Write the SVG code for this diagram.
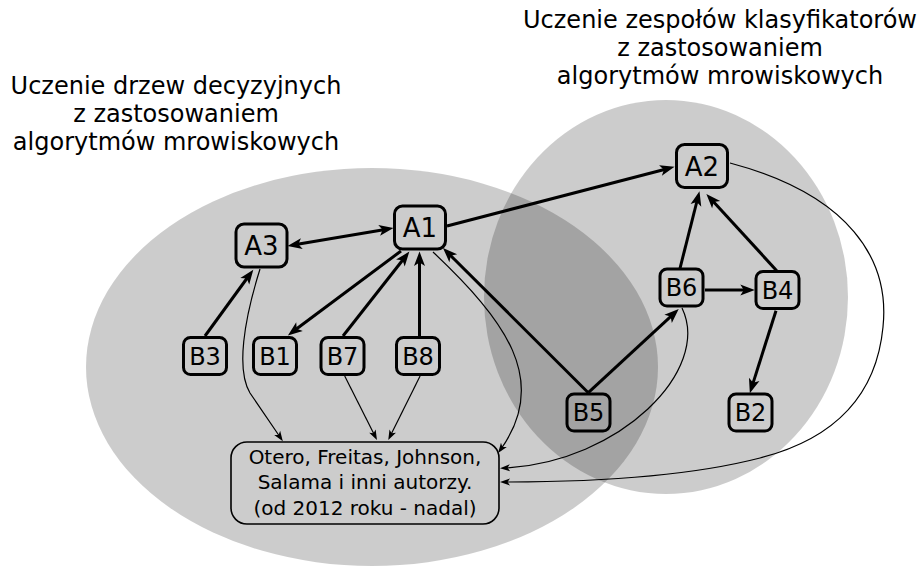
<svg xmlns="http://www.w3.org/2000/svg" width="921" height="566" viewBox="0 0 921 566">
  <style>
    .area { fill: #000000; fill-opacity: 0.2; stroke: none; }
    .title { font-family: "DejaVu Sans", sans-serif; font-size: 24px; fill: #000; text-anchor: middle; }
    .node rect { fill: none; stroke: #000; stroke-width: 3; }
    .nodeA text { font-family: "DejaVu Sans", sans-serif; font-size: 26px; fill: #000; text-anchor: middle; }
    .nodeB text { font-family: "DejaVu Sans", sans-serif; font-size: 24px; fill: #000; text-anchor: middle; }
    .ref rect { fill: none; stroke: #000; stroke-width: 1.6; }
    .ref text { font-family: "DejaVu Sans", sans-serif; font-size: 20px; fill: #000; text-anchor: middle; }
    .thick { fill: none; stroke: #000; stroke-width: 3; marker-end: url(#arrow); }
    .thin { fill: none; stroke: #000; stroke-width: 1.2; marker-end: url(#arrowThin); }
  </style>
  <defs>
    <marker id="arrow" markerUnits="userSpaceOnUse" viewBox="-8 -7 17 14" refX="0" refY="0" markerWidth="17" markerHeight="14" orient="auto-start-reverse">
      <path d="M8.5,0 L-6,-5.5 L-2.5,0 L-6,5.5 Z" fill="#000"/>
    </marker>
    <marker id="arrowThin" markerUnits="userSpaceOnUse" viewBox="-6 -5 12 10" refX="0" refY="0" markerWidth="12" markerHeight="10" orient="auto">
      <path d="M5,0 L-5,-3.6 L-2.5,0 L-5,3.6 Z" fill="#000"/>
    </marker>
  </defs>

  <!-- research areas -->
  <ellipse id="area-trees" class="area" cx="372" cy="367" rx="286" ry="199"/>
  <ellipse id="area-ensembles" class="area" cx="666" cy="297" rx="182" ry="197"/>

  <!-- area captions -->
  <g id="caption-trees">
    <text class="title" x="176" y="94">Uczenie drzew decyzyjnych</text>
    <text class="title" x="176" y="122">z zastosowaniem</text>
    <text class="title" x="176" y="150">algorytmów mrowiskowych</text>
  </g>
  <g id="caption-ensembles">
    <text class="title" x="720" y="28">Uczenie zespołów klasyfikatorów</text>
    <text class="title" x="720" y="56">z zastosowaniem</text>
    <text class="title" x="720" y="84">algorytmów mrowiskowych</text>
  </g>

  <!-- connectors -->
  <g id="connectors">
    <path class="thick" d="M295.9,244.6 L385.1,229.4" marker-start="url(#arrow)"/>
    <path class="thick" d="M447,226 L666.3,169"/>
    <path class="thick" d="M205,336 L248.3,276.5"/>
    <path class="thick" d="M401,251 L294.7,330.3"/>
    <path class="thick" d="M343,336 L404.1,258.3"/>
    <path class="thick" d="M419.5,336 L419.5,260"/>
    <path class="thick" d="M588.3,392.7 L449,254"/>
    <path class="thick" d="M588.3,392.7 L672.5,314.8"/>
    <path class="thick" d="M680,268.3 L697.4,199.5"/>
    <path class="thick" d="M776.7,270.7 L712.1,200.2"/>
    <path class="thick" d="M705,290 L746.3,290"/>
    <path class="thick" d="M776,310.7 L752.4,385.1"/>

    <path class="thin" d="M260,269 C244,320 236,370 250,393 L280,437"/>
    <path class="thin" d="M344.7,376 L374.7,435.5"/>
    <path class="thin" d="M420.1,376 L390.5,435.5"/>
    <path class="thin" d="M433,252 C505,320 550,380 501,449"/>
    <path class="thin" d="M682,308 C712,370 620,462 505,468"/>
    <path class="thin" d="M730,163 C850,195 890,260 883,327 C876,400 830,440 760,458 C690,476 600,482 505,482"/>
  </g>

  <!-- nodes -->
  <g id="A1" class="node nodeA">
    <rect x="394.5" y="206" width="51" height="43" rx="8"/>
    <text x="420" y="237">A1</text>
  </g>
  <g id="A2" class="node nodeA">
    <rect x="676.5" y="144.5" width="51" height="43" rx="8"/>
    <text x="702" y="175.5">A2</text>
  </g>
  <g id="A3" class="node nodeA">
    <rect x="236" y="224" width="51" height="43" rx="8"/>
    <text x="261.5" y="255">A3</text>
  </g>
  <g id="B3" class="node nodeB">
    <rect x="183.5" y="337.5" width="43" height="37" rx="7"/>
    <text x="205" y="364.7">B3</text>
  </g>
  <g id="B1" class="node nodeB">
    <rect x="253.5" y="337.5" width="43" height="37" rx="7"/>
    <text x="275" y="364.7">B1</text>
  </g>
  <g id="B7" class="node nodeB">
    <rect x="321" y="337.5" width="43" height="37" rx="7"/>
    <text x="342.5" y="364.7">B7</text>
  </g>
  <g id="B8" class="node nodeB">
    <rect x="396.5" y="337.5" width="43" height="37" rx="7"/>
    <text x="418" y="364.7">B8</text>
  </g>
  <g id="B5" class="node nodeB">
    <rect x="567" y="394" width="43" height="37" rx="7"/>
    <text x="588.5" y="421.2">B5</text>
  </g>
  <g id="B6" class="node nodeB">
    <rect x="660" y="269" width="43" height="37" rx="7"/>
    <text x="681.5" y="296.2">B6</text>
  </g>
  <g id="B4" class="node nodeB">
    <rect x="756" y="271.5" width="43" height="37" rx="7"/>
    <text x="777.5" y="298.7">B4</text>
  </g>
  <g id="B2" class="node nodeB">
    <rect x="729" y="394" width="43" height="37" rx="7"/>
    <text x="750.5" y="421.2">B2</text>
  </g>

  <g id="references" class="ref">
    <rect x="231" y="442" width="268" height="82" rx="16"/>
    <text x="365" y="463.5">Otero, Freitas, Johnson,</text>
    <text x="365" y="489">Salama i inni autorzy.</text>
    <text x="365" y="514.5">(od 2012 roku - nadal)</text>
  </g>
</svg>
